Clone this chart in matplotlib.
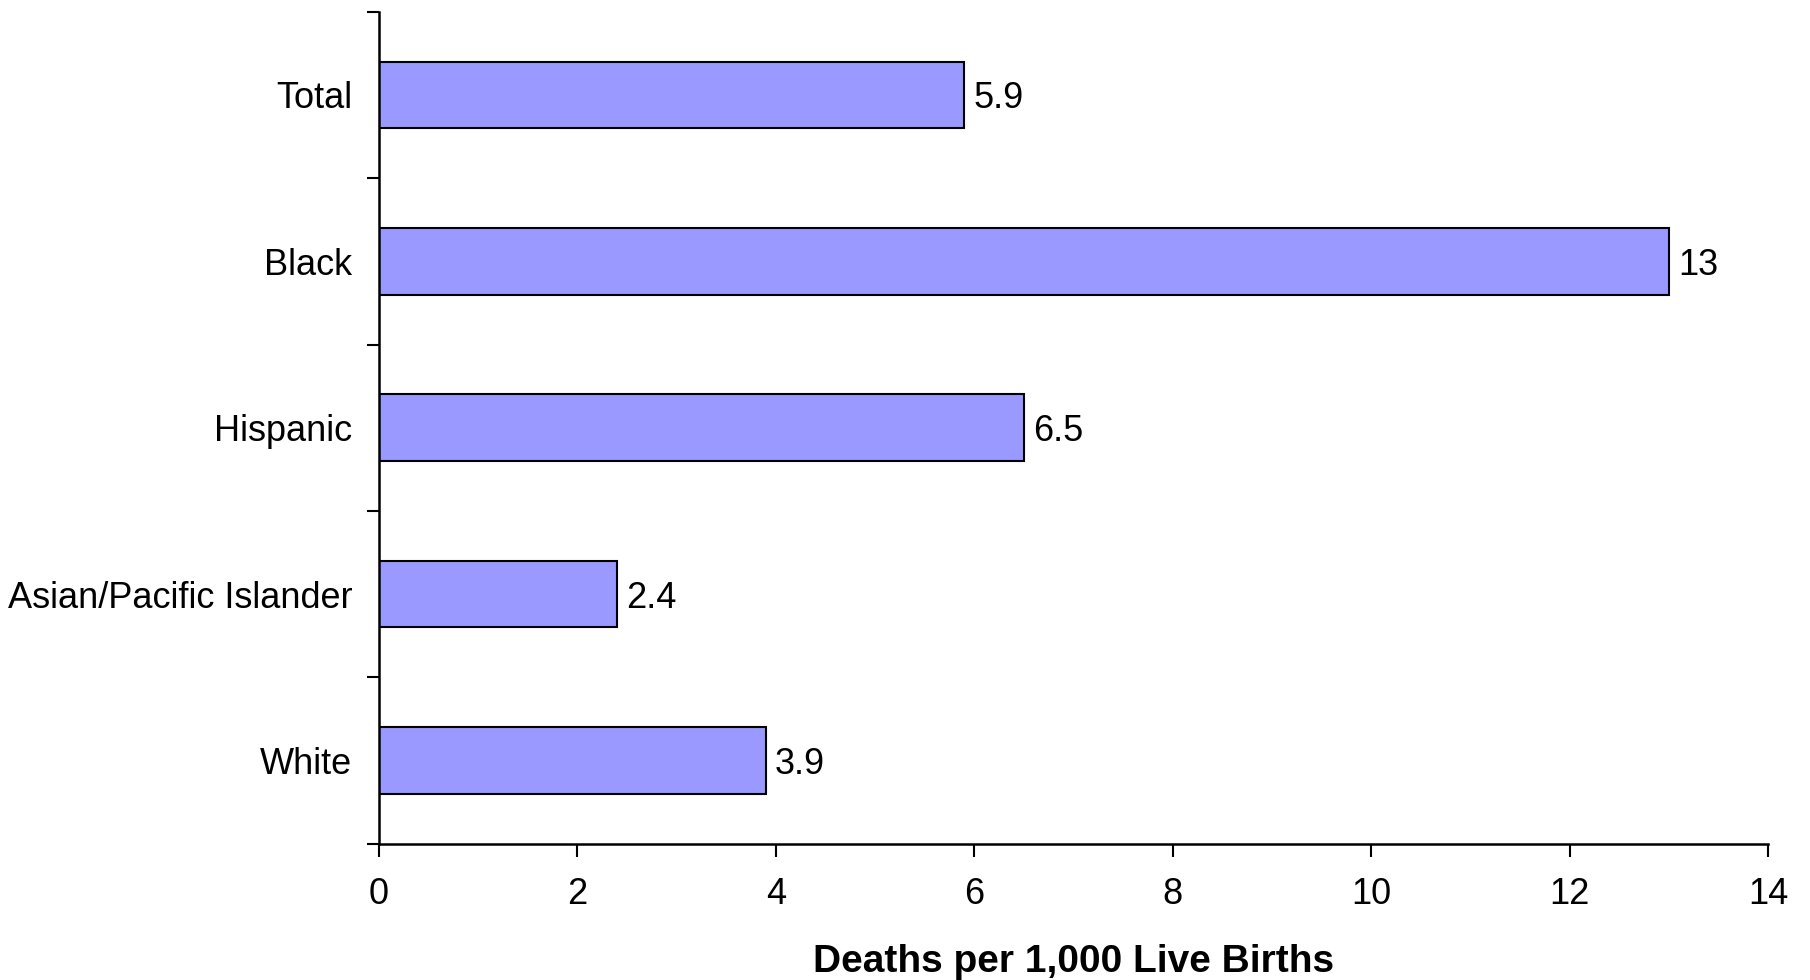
import numpy as np
import matplotlib
matplotlib.use("Agg")
import matplotlib.pyplot as plt

# data, top to bottom as shown
categories = ["Total", "Black", "Hispanic", "Asian/Pacific Islander", "White"]
rates = [5.9, 13, 6.5, 2.4, 3.9]
x_ticks = [0, 2, 4, 6, 8, 10, 12, 14]

plt.rcParams["font.family"] = ["Liberation Sans", "DejaVu Sans"]

fig = plt.figure(figsize=(18.1, 9.8), dpi=100)
ax = fig.add_axes([0.2092, 0.139, 0.7678, 0.849])

ypos = np.arange(len(categories))[::-1]
ax.barh(ypos, rates, height=0.4, color="#9999FF", edgecolor="black", linewidth=1.5)

for y, v in zip(ypos, rates):
    ax.text(v + 0.09, y, f"{v:g}", va="center_baseline", ha="left", fontsize=26)

ax.set_xlim(0, 14)
ax.set_ylim(-0.5, len(categories) - 0.5)
ax.set_xticks(x_ticks)
ax.set_yticks(ypos)
ax.set_yticklabels(categories)
ax.set_yticks(np.arange(-0.5, len(categories)), minor=True)

ax.tick_params(axis="y", which="major", length=0, pad=19, labelsize=26)
ax.tick_params(axis="y", which="minor", length=9, width=1.5, direction="out")
ax.tick_params(axis="x", length=9, width=1.5, direction="out", pad=15, labelsize=26)

for side in ("top", "right"):
    ax.spines[side].set_visible(False)
for side in ("left", "bottom"):
    ax.spines[side].set_linewidth(1.8)

ax.set_xlabel("Deaths per 1,000 Live Births", fontsize=28, fontweight="bold", labelpad=23)

fig.savefig("out.png", dpi=100)
